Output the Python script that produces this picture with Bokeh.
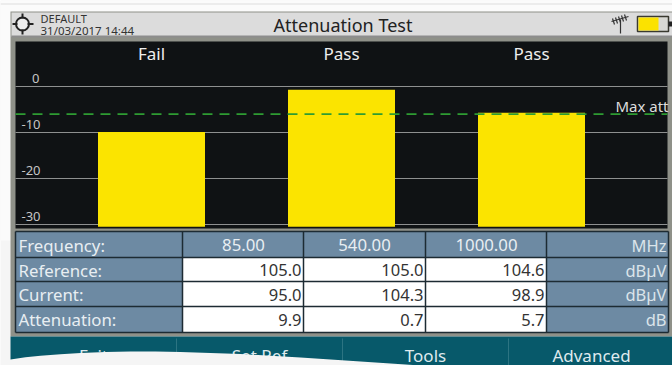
from bokeh.plotting import figure
from bokeh.models import Range1d
from bokeh.core.properties import value
from bokeh.embed import file_html
from bokeh.resources import INLINE

# ---- data ----
verdicts = ["Fail", "Pass", "Pass"]
bar_index = [0, 1, 2]
attenuation_level = [-9.9, -0.7, -5.7]
y_ticks = [0, -10, -20, -30]
y_tick_labels = ["0", "-10", "-20", "-30"]
max_att = -6.0
floor_level = -30.5
row_labels = ["Frequency:", "Reference:", "Current:", "Attenuation:"]
col_frequency = ["85.00", "540.00", "1000.00"]
col_reference = ["105.0", "105.0", "104.6"]
col_current = ["95.0", "104.3", "98.9"]
col_attenuation = ["9.9", "0.7", "5.7"]
units = ["MHz", "dBµV", "dBµV", "dB"]
menu_labels = ["Exit", "Set Ref", "Tools", "Advanced"]

W, H = 672, 365
FONT = value("Noto Sans")

# value -> pixel: 0 at y=86 px, 4.6 px per unit. bar index -> pixel: 151 + 190 i
p = figure(width=W, height=H, output_backend="svg", toolbar_location=None,
           x_range=Range1d((0 - 151) / 190, (W - 151) / 190),
           y_range=Range1d((86 - H) / 4.6, 86 / 4.6),
           min_border=0, outline_line_color=None, background_fill_color="#f5f5f5",
           border_fill_color="#f5f5f5")
p.axis.visible = False
p.grid.visible = False
p.extra_x_ranges["px"] = Range1d(0, W)
p.extra_y_ranges["px"] = Range1d(H, 0)
px = dict(x_range_name="px", y_range_name="px")
xpx = dict(x_range_name="px")
ypx = dict(y_range_name="px")


def box(l, t, r, b, color, **kw):
    p.quad(left=[l], right=[r], top=[t], bottom=[b], fill_color=color,
           line_color=kw.get("line", None), line_width=kw.get("lw", 1), **px)


def label(xs, ys, texts, size, color, align="left", **kw):
    p.text(x=xs, y=ys, text=texts, text_font=FONT, text_font_size=size,
           text_color=color, text_align=align, text_baseline="middle", **kw)


# page and device body
box(0, 0, W, 240, "#fbfbfb")
box(0, 3, W, 4, "#dedede")
box(10, 11, W, 336, "#8f9189")
box(11, 12, W, 36, "#dcdcdc")
box(11, 35, W, 37, "#8d8d8d")
box(15, 41, 667, 228, "#0f1214")

# header
p.scatter(x=[22], y=[23.5], size=13, marker="circle", fill_color="#eeeeee", line_color="#222222",
          line_width=2, **px)
p.segment(x0=[12, 27, 22, 22], y0=[23.5, 23.5, 13, 29], x1=[17, 33, 22, 22], y1=[23.5, 23.5, 18, 34],
          line_color="#222222", line_width=2, **px)
label([40], [18], ["DEFAULT"], "11px", "#333333", **px)
label([40], [30], ["31/03/2017 14:44"], "11.5px", "#333333", **px)
label([342.5], [24.5], ["Attenuation Test"], "18px", "#222222", "center", **px)
p.segment(x0=[620, 611, 612, 615, 618, 621, 624],
          y0=[33, 21, 18, 17, 16, 15, 14],
          x1=[620, 628, 614, 617, 620, 623, 626],
          y1=[19, 16, 24, 23, 22, 21, 20],
          line_color="#333333", line_width=1.2, **px)
box(637, 16, 668, 31, "#d9d9d4", line="#3a3a30", lw=1.5)
box(638, 17, 658, 30, "#fbe200")
box(668, 21, 672, 26, "#222222")

# gridlines, driven by the value axis
p.segment(x0=[15] * 4, x1=[667] * 4, y0=y_ticks, y1=y_ticks, line_color="#8e9090",
          line_width=1, **xpx)
label([39, 40, 40, 40], y_ticks, y_tick_labels, "13px", "#c6c6c6", "right",
      y_offset=-8, **xpx)

# bars
p.vbar(x=bar_index, top=attenuation_level, bottom=floor_level, width=107 / 190,
       fill_color="#fbe400", line_color=None)
p.line(x=[(15 - 151) / 190, (667 - 151) / 190], y=[max_att, max_att], line_color="#2e9c32",
       line_width=1.6, line_dash="10 7")
label([668], [105], ["Max att"], "15px", "#dddddd", "right", **px)
label(bar_index, [53] * 3, verdicts, "17px", "#eeeeee", "center", **ypx)

# table
col_edges = [15, 182, 303, 425, 546, 668]
row_edges = [231, 257, 281, 306, 332]
box(15, 231, 668, 332, "#6d8aa3")
box(182, 257, 546, 332, "#ffffff")
p.segment(x0=col_edges, x1=col_edges, y0=[231] * 6, y1=[332] * 6, line_color="#1d2b33",
          line_width=1.5, **px)
p.segment(x0=[15] * 5, x1=[668] * 5, y0=row_edges, y1=row_edges, line_color="#1d2b33",
          line_width=1.5, **px)
row_mid = [244.5, 269.5, 294, 319]
label([18] * 4, row_mid, row_labels, "16.8px", "#e8eef2", **px)
label([243, 364, 486], [row_mid[0]] * 3, col_frequency, "16.8px", "#e8eef2", "center", **px)
right_edges = [301, 423, 544]
for row, vals in zip(row_mid[1:], [col_reference, col_current, col_attenuation]):
    label(right_edges, [row] * 3, vals, "16.5px", "#333333", "right", **px)
label([666] * 4, row_mid, units, "16.5px", "#dbe4ea", "right", **px)

# menu bar
box(10, 336, W, H, "#07596a")
p.segment(x0=[176, 342, 508], x1=[176, 342, 508], y0=[338] * 3, y1=[H] * 3,
          line_color="#2c7482", line_width=1, **px)
label([93, 259, 425, 591], [355] * 4, menu_labels, "17px", "#dfeaee", "center", **px)

# curved sheet overlapping the bottom of the picture
curve_x = [0, 10, 25, 40, 60, 80, 105, 130, 155, 180, 210, 240, 270, 300, 330, 360, 390, 420, 420, 0]
curve_y = [360, 359, 356.8, 355.2, 353.7, 352.6, 351.6, 351.1, 351.1, 351.6, 352.4, 353.6, 355.2,
           357, 359, 361, 363, 365, 365, 365]
p.patch(x=curve_x, y=curve_y, fill_color="#f5f5f5", line_color=None, **px)

open("out.html", "w").write(file_html(p, INLINE))
